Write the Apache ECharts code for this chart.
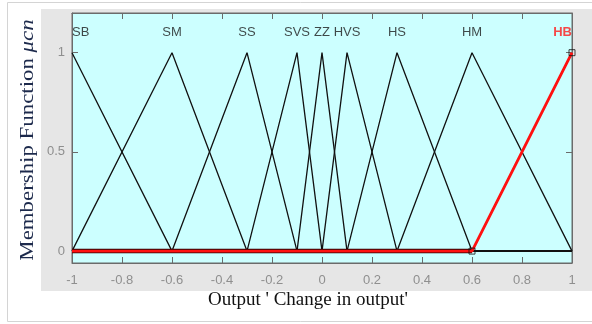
<!DOCTYPE html>
<html><head><meta charset="utf-8">
<script src="https://cdn.jsdelivr.net/npm/echarts@6/dist/echarts.min.js"></script>
<style>html,body{margin:0;padding:0;background:#fff}#c{width:592px;height:324px}</style>
</head><body><div id="c"></div>
<script>
// Membership functions (triangular): left foot, peak, right foot
const mfNames = ['SB','SM','SS','SVS','ZZ','HVS','HS','HM','HB'];
const mfLeft  = [-1.4, -1.0, -0.6, -0.3, -0.1, 0.0, 0.1, 0.3, 0.6];
const mfPeak  = [-1.0, -0.6, -0.3, -0.1, 0.0, 0.1, 0.3, 0.6, 1.0];
const mfRight = [-0.6, -0.3, -0.1, 0.0, 0.1, 0.3, 0.6, 1.0, 1.4];
const selectedIndex = 8; // HB highlighted
const xTickLabels = ['-1','-0.8','-0.6','-0.4','-0.2','0','0.2','0.4','0.6','0.8','1'];
const yTickValues = [0, 0.5, 1];
const yTickLabels = ['0','0.5','1'];
const xRange = [-1, 1];
const yRange = [-0.06, 1.2];
const nameLevel = 1.1;

function tri(x, a, b, c) {
  if (x <= a || x >= c) return (x === b) ? 1 : 0;
  if (x <= b) return b === a ? 1 : (x - a) / (b - a);
  return c === b ? 1 : (c - x) / (c - b);
}
function mfPoints(i) {
  const a = mfLeft[i], b = mfPeak[i], c = mfRight[i];
  const xs = [xRange[0], a, b, c, xRange[1]].filter(v => v >= xRange[0] && v <= xRange[1]);
  const uniq = [...new Set(xs)].sort((p, q) => p - q);
  return uniq.map(x => [x, tri(x, a, b, c)]);
}

const axisColor = '#6b6b6b';
const labelColor = '#8f8f8f';
const series = [];
mfNames.forEach((n, i) => {
  if (i === selectedIndex) return;
  series.push({ type: 'line', data: mfPoints(i), symbol: 'none', z: 2,
    lineStyle: { color: '#111', width: 1.3 }, animation: false });
});
// highlighted MF
const selPts = mfPoints(selectedIndex);
series.push({ type: 'line', data: selPts.filter(p => p[1] === 0 && p[0] <= mfLeft[selectedIndex]), symbol: 'none', z: 3,
  lineStyle: { color: '#2a0000', width: 4.5 }, animation: false });
series.push({ type: 'line', data: selPts, symbol: 'none', z: 4,
  lineStyle: { color: '#ff1010', width: 2.8 }, animation: false });
series.push({ type: 'scatter', z: 5, symbol: 'rect', symbolSize: 6, animation: false,
  itemStyle: { color: 'rgba(0,0,0,0)', borderColor: '#111', borderWidth: 1 },
  data: [[mfLeft[selectedIndex], 0], [mfPeak[selectedIndex], 1]] });
// MF name labels
series.push({ type: 'scatter', z: 6, symbolSize: 0, animation: false, silent: true,
  data: mfNames.map((n, i) => ({
    value: [mfPeak[i], nameLevel], name: n,
    label: {
      show: true, position: 'inside', formatter: n,
      align: i === 0 ? 'left' : (i === mfNames.length - 1 ? 'right' : 'center'),
      color: i === selectedIndex ? '#ff1a1a' : '#1a1a1a',
      fontWeight: i === selectedIndex ? 'bold' : 'normal',
      fontFamily: 'Liberation Sans, Arial', fontSize: 13
    }
  }))
});

const chart = echarts.init(document.getElementById('c'), null, { renderer: 'canvas' });
chart.setOption({
  animation: false,
  backgroundColor: '#fff',
  graphic: [
    { type: 'rect', z: -10, shape: { x: 7.5, y: 2.5, width: 600, height: 319 },
      style: { fill: '#fff', stroke: '#d4d4d4', lineWidth: 1 } },
    { type: 'rect', z: -9, shape: { x: 41, y: 9, width: 560, height: 282 },
      style: { fill: '#e6e6e6' } },
    { type: 'text', z: 10, x: 308, y: 300,
      style: { text: "Output ' Change in output'", font: '19px "Liberation Serif", "Times New Roman", serif',
        fill: '#111', align: 'center', verticalAlign: 'middle' } },
    { type: 'text', z: 10, x: 28, y: 140, rotation: Math.PI / 2, scaleX: 1.27,
      style: { text: 'Membership Function {i|μcn}', fontFamily: '"Liberation Serif", "Times New Roman", serif',
        fontSize: 18, fill: '#1d2a4c', align: 'center', verticalAlign: 'middle',
        rich: { i: { fontStyle: 'italic', fontFamily: '"Liberation Serif", serif', fontSize: 18, fill: '#1d2a4c' } } } }
  ],
  grid: { left: 72, right: 20, top: 13, bottom: 61, show: true, backgroundColor: '#ccffff',
    borderColor: axisColor, borderWidth: 1, outerBoundsMode: 'none', containLabel: false },
  xAxis: [
    { type: 'value', min: xRange[0], max: xRange[1], interval: 0.2,
      axisLine: { show: true, onZero: false, lineStyle: { color: axisColor } },
      axisTick: { show: true, inside: true, length: 6, lineStyle: { color: axisColor } },
      axisLabel: { color: labelColor, fontSize: 13, fontFamily: 'Liberation Sans, Arial', margin: 11,
        formatter: (v) => xTickLabels[Math.round((v - xRange[0]) / 0.2)] },
      splitLine: { show: false } },
    { type: 'value', position: 'top', min: xRange[0], max: xRange[1], interval: 0.2,
      axisLine: { show: true, onZero: false, lineStyle: { color: axisColor } },
      axisTick: { show: true, inside: true, length: 6, lineStyle: { color: axisColor } },
      axisLabel: { show: false }, splitLine: { show: false } }
  ],
  yAxis: [
    { type: 'value', min: yRange[0], max: yRange[1],
      axisLine: { show: true, onZero: false, lineStyle: { color: axisColor } },
      axisTick: { show: true, inside: true, length: 6, customValues: yTickValues, lineStyle: { color: axisColor } },
      axisLabel: { color: labelColor, fontSize: 13, fontFamily: 'Liberation Sans, Arial', margin: 7,
        customValues: yTickValues, formatter: (v) => yTickLabels[yTickValues.indexOf(v)] },
      splitLine: { show: false } },
    { type: 'value', position: 'right', min: yRange[0], max: yRange[1],
      axisLine: { show: true, onZero: false, lineStyle: { color: axisColor } },
      axisTick: { show: true, inside: true, length: 6, customValues: yTickValues, lineStyle: { color: axisColor } },
      axisLabel: { show: false }, splitLine: { show: false } }
  ],
  series: series
});
</script></body></html>
